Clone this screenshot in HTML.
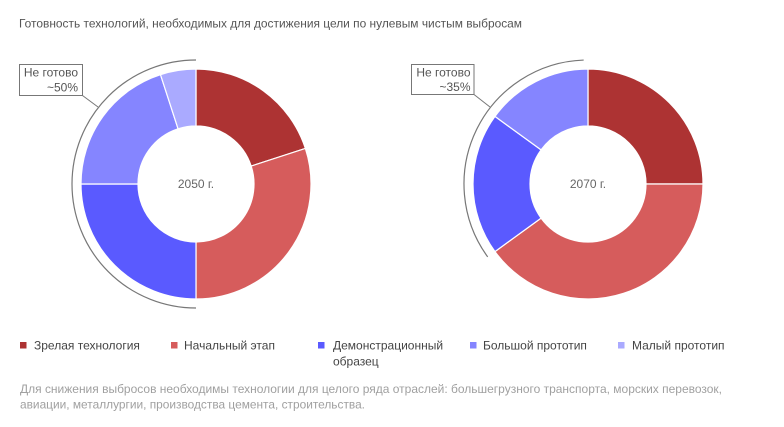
<!DOCTYPE html>
<html>
<head>
<meta charset="utf-8">
<style>
  html, body { margin:0; padding:0; background:#fff; }
  svg { display:block; }
  text { font-family: "Liberation Sans", "Noto Sans CJK SC", sans-serif; }
</style>
</head>
<body>
<svg width="784" height="427" viewBox="0 0 784 427" xmlns="http://www.w3.org/2000/svg">
  <rect width="784" height="427" fill="#fff"/>

  <!-- Title -->
  <text x="19" y="27.5" font-size="12" fill="#555" textLength="503" lengthAdjust="spacingAndGlyphs">Готовность технологий, необходимых для достижения цели по нулевым чистым выбросам</text>

  <!-- Left donut (2050) -->
  <g stroke="#fff" stroke-width="1.2" stroke-linejoin="round">
    <path d="M196 69 A115 115 0 0 1 305.38 148.46 L251.16 166.08 A58 58 0 0 0 196 126 Z" fill="#ad3333"/>
    <path d="M305.38 148.46 A115 115 0 0 1 196 299 L196 242 A58 58 0 0 0 251.16 166.08 Z" fill="#d65c5c"/>
    <path d="M196 299 A115 115 0 0 1 81 184 L138 184 A58 58 0 0 0 196 242 Z" fill="#5a5aff"/>
    <path d="M81 184 A115 115 0 0 1 160.46 74.62 L178.08 128.84 A58 58 0 0 0 138 184 Z" fill="#8585ff"/>
    <path d="M160.46 74.62 A115 115 0 0 1 196 69 L196 126 A58 58 0 0 0 178.08 128.84 Z" fill="#aaaaff"/>
  </g>
  <text x="196" y="188" font-size="12" fill="#666" text-anchor="middle">2050 г.</text>
  <path d="M196 60 A124 124 0 0 0 196 308" fill="none" stroke="#777" stroke-width="1.2"/>
  <line x1="82.5" y1="95.5" x2="98" y2="107" stroke="#777" stroke-width="1"/>
  <rect x="19.5" y="64.5" width="63" height="31" fill="#fff" stroke="#777" stroke-width="1"/>
  <text x="78" y="76.5" font-size="12" fill="#555" text-anchor="end">Не готово</text>
  <text x="78" y="91.5" font-size="12" fill="#555" text-anchor="end">~50%</text>

  <!-- Right donut (2070) -->
  <g stroke="#fff" stroke-width="1.2" stroke-linejoin="round">
    <path d="M588 69 A115 115 0 0 1 703 184 L646 184 A58 58 0 0 0 588 126 Z" fill="#ad3333"/>
    <path d="M703 184 A115 115 0 0 1 494.96 251.60 L541.08 218.09 A58 58 0 0 0 646 184 Z" fill="#d65c5c"/>
    <path d="M494.96 251.60 A115 115 0 0 1 494.96 116.40 L541.08 149.91 A58 58 0 0 0 541.08 218.09 Z" fill="#5a5aff"/>
    <path d="M494.96 116.40 A115 115 0 0 1 588 69 L588 126 A58 58 0 0 0 541.08 149.91 Z" fill="#8585ff"/>
  </g>
  <text x="588" y="188" font-size="12" fill="#666" text-anchor="middle">2070 г.</text>
  <path d="M583.67 60.07 A124 124 0 0 0 487.68 256.89" fill="none" stroke="#777" stroke-width="1.2"/>
  <line x1="474" y1="94.5" x2="490" y2="107" stroke="#777" stroke-width="1"/>
  <rect x="411.5" y="64.5" width="62.5" height="30" fill="#fff" stroke="#777" stroke-width="1"/>
  <text x="470.5" y="76.5" font-size="12" fill="#555" text-anchor="end">Не готово</text>
  <text x="470.5" y="91" font-size="12" fill="#555" text-anchor="end">~35%</text>

  <!-- Legend -->
  <rect x="20" y="342" width="6.5" height="6.5" fill="#ad3333"/>
  <text x="34" y="349.5" font-size="12" fill="#444">Зрелая технология</text>
  <rect x="171" y="342" width="6.5" height="6.5" fill="#d65c5c"/>
  <text x="184" y="349.5" font-size="12" fill="#444">Начальный этап</text>
  <rect x="318" y="342" width="6.5" height="6.5" fill="#5a5aff"/>
  <text x="333" y="349.5" font-size="12" fill="#444">Демонстрационный</text>
  <text x="333" y="365.5" font-size="12" fill="#444">образец</text>
  <rect x="470" y="342" width="6.5" height="6.5" fill="#8585ff"/>
  <text x="483" y="349.5" font-size="12" fill="#444">Большой прототип</text>
  <rect x="618" y="342" width="6.5" height="6.5" fill="#aaaaff"/>
  <text x="632" y="349.5" font-size="12" fill="#444">Малый прототип</text>

  <!-- Footer -->
  <text x="20" y="393" font-size="12" fill="#a0a0a0" textLength="702" lengthAdjust="spacingAndGlyphs">Для снижения выбросов необходимы технологии для целого ряда отраслей: большегрузного транспорта, морских перевозок,</text>
  <text x="20" y="408.5" font-size="12" fill="#a0a0a0" textLength="345" lengthAdjust="spacingAndGlyphs">авиации, металлургии, производства цемента, строительства.</text>
</svg>
</body>
</html>
